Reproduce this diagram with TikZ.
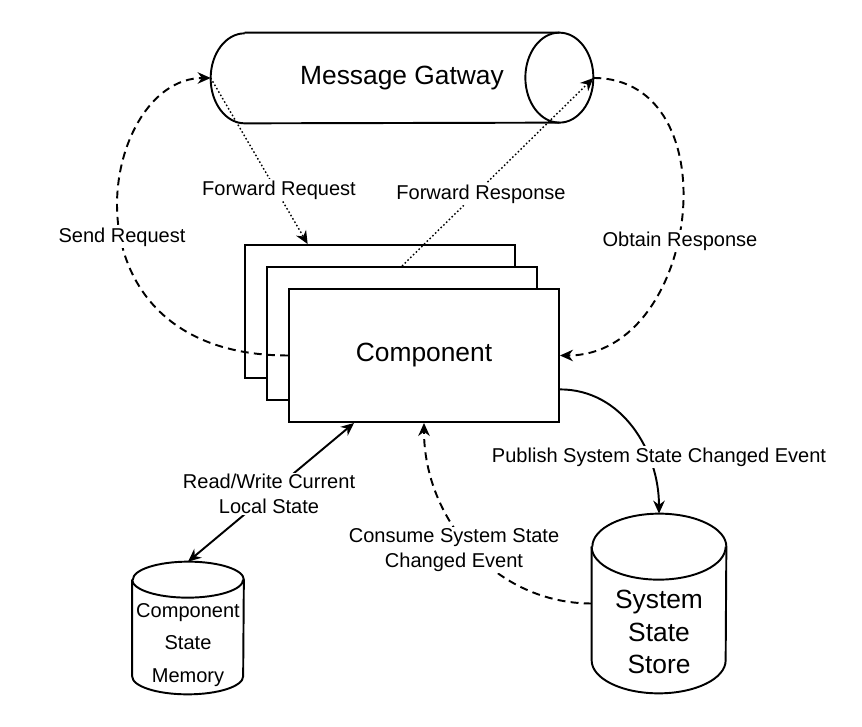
\documentclass[tikz,border=0pt]{standalone}
\usepackage{fontspec}
\setmainfont{Liberation Sans}
\usetikzlibrary{arrows.meta}

\tikzset{
  >={Stealth[length=2.6mm,width=2.3mm]},
  box/.style={draw,line width=1.1pt,fill=white,minimum width=5.4cm,minimum height=2.66cm},
  area/.style={inner sep=0pt,align=center},
  outline/.style={line width=1.1pt},
  big/.style={font=\fontsize{15}{18.5}\selectfont},
  lbl/.style={fill=white,inner sep=1pt,align=center,font=\fontsize{11.4}{14}\selectfont},
  evt/.style={line width=1.1pt,dash pattern=on 4.5pt off 3pt},
  fwd/.style={line width=0.8pt,dash pattern=on 0.9pt off 1.3pt}
}

\begin{document}
\begin{tikzpicture}
\useasboundingbox (0,0) rectangle (17.24,14.52);

% message gateway, a lying cylinder
\node [area,big,minimum width=7.64cm,minimum height=1.8cm] (gw) at (8.04,12.96) {Message Gatway};
\draw [outline] ([xshift=0.68cm]gw.north west) -- ([xshift=-0.68cm]gw.north east) arc [start angle=90,end angle=-90,x radius=0.68cm,y radius=0.9cm] -- ([xshift=0.68cm]gw.south west) arc [start angle=270,end angle=90,x radius=0.68cm,y radius=0.9cm];
\draw [outline] ([xshift=-0.68cm]gw.north east) arc [start angle=90,end angle=270,x radius=0.68cm,y radius=0.9cm];

\node [box] (comp1) at (7.6,8.29) {};
\node [box] (comp2) at (8.04,7.85) {};
\node [box,big] (comp3) at (8.48,7.41) {Component};

% component state memory
\node [area,minimum width=2.22cm,minimum height=2.64cm] (mem) at (3.76,1.96) {};
\draw [outline] ([yshift=-0.36cm]mem.north west) -- ([yshift=0.36cm]mem.south west) arc [start angle=180,end angle=360,x radius=1.11cm,y radius=0.36cm] -- ([yshift=-0.36cm]mem.north east) arc [start angle=0,end angle=180,x radius=1.11cm,y radius=0.36cm];
\draw [outline] ([yshift=-0.36cm]mem.north west) arc [start angle=180,end angle=360,x radius=1.11cm,y radius=0.36cm];
\node [area,font=\fontsize{11.4}{18.5}\selectfont] (memtext) at (3.76,1.62) {Component\\State\\Memory};

% system state store
\node [area,minimum width=2.68cm,minimum height=3.58cm] (sss) at (13.18,2.45) {};
\draw [outline] ([yshift=-0.66cm]sss.north west) -- ([yshift=0.66cm]sss.south west) arc [start angle=180,end angle=360,x radius=1.34cm,y radius=0.66cm] -- ([yshift=-0.66cm]sss.north east) arc [start angle=0,end angle=180,x radius=1.34cm,y radius=0.66cm];
\draw [outline] ([yshift=-0.66cm]sss.north west) arc [start angle=180,end angle=360,x radius=1.34cm,y radius=0.66cm];
\node [area,big] (ssstext) at (13.18,1.88) {System\\State\\Store};

% requests and responses
\draw [evt,->] (comp3.west) to [out=180,in=180,out looseness=2.1,in looseness=1] (gw.west);
\draw [evt,->] (gw.east) to [out=0,in=0,looseness=1.28] (comp3.east);
\draw [fwd,->] (gw.west) -- (comp1.137);
\draw [fwd,->] (comp2.north) -- (gw.east);

% state
\draw [outline,<->] ([xshift=-1.4cm]comp3.south) -- (mem.north);
\draw [evt,->] (sss.west) to [out=180,in=-90] (comp3.south);
\draw [outline,->] (comp3.-14) to [out=0,in=90] (sss.north);

\node [lbl] (sendlbl) at (2.44,9.78) {Send Request};
\node [lbl] (obtainlbl) at (13.6,9.7) {Obtain Response};
\node [lbl] (fwdreqlbl) at (5.58,10.72) {Forward Request};
\node [lbl] (fwdreslbl) at (9.62,10.64) {Forward Response};
\node [lbl] (rwlbl) at (5.38,4.64) {Read/Write Current\\Local State};
\node [lbl] (consumelbl) at (9.08,3.52) {Consume System State\\Changed Event};
\node [lbl] (publishlbl) at (13.18,5.38) {Publish System State Changed Event};

\end{tikzpicture}
\end{document}
